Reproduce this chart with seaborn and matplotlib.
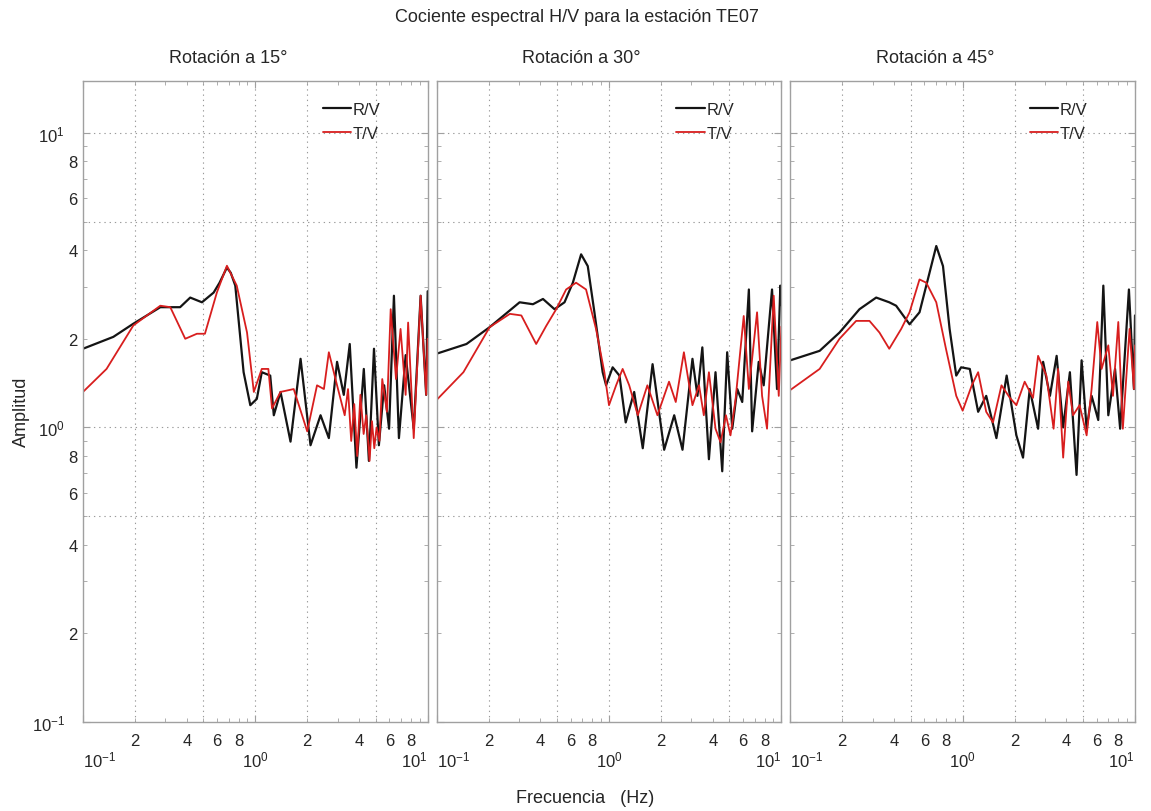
import numpy as np
import pandas as pd
import matplotlib
matplotlib.use("Agg")
import matplotlib.pyplot as plt
import matplotlib.ticker as mticker
import seaborn as sns

# ---------------- data ----------------
titles = ["Rotación a 15°", "Rotación a 30°", "Rotación a 45°"]
series_labels = ["R/V", "T/V"]

f15_rv = [0.1, 0.15, 0.196, 0.281, 0.366, 0.419, 0.49, 0.573, 0.62, 0.684, 0.72, 0.765, 0.855, 0.935,
          1.02, 1.09, 1.22, 1.28, 1.40, 1.60, 1.83, 2.09, 2.39, 2.67, 2.98, 3.26, 3.53, 3.86,
          4.26, 4.56, 4.88, 5.21, 5.59, 5.97, 6.37, 6.81, 7.45, 8.3, 9.1, 9.8, 10.0]
a15_rv = [1.85, 2.03, 2.25, 2.56, 2.56, 2.76, 2.66, 2.87, 3.10, 3.49, 3.35, 3.03, 1.54, 1.19,
          1.25, 1.54, 1.50, 1.10, 1.32, 0.895, 1.71, 0.87, 1.10, 0.92, 1.67, 1.29, 1.92, 0.73,
          1.58, 0.77, 1.85, 0.87, 1.39, 0.99, 2.80, 0.92, 1.76, 0.99, 2.80, 1.29, 2.90]
f15_tv = [0.1, 0.137, 0.196, 0.281, 0.321, 0.392, 0.458, 0.51, 0.598, 0.684, 0.78, 0.895, 0.98,
          1.09, 1.19, 1.25, 1.40, 1.67, 2.0, 2.28, 2.5, 2.67, 2.98, 3.3, 3.45, 3.6, 3.75, 3.9,
          4.07, 4.25, 4.4, 4.6, 4.75, 4.9, 5.05, 5.25, 5.45, 5.8, 6.1, 6.55, 6.96, 7.45, 7.7,
          8.3, 9.1, 9.8, 10.0]
a15_tv = [1.32, 1.58, 2.22, 2.59, 2.56, 2.0, 2.08, 2.08, 2.87, 3.54, 3.03, 2.10, 1.32,
          1.58, 1.58, 1.16, 1.32, 1.35, 0.97, 1.39, 1.35, 1.80, 1.39, 1.10, 1.35, 0.90, 1.20, 0.80,
          1.29, 0.95, 1.10, 0.77, 1.05, 0.85, 1.00, 0.90, 1.46, 1.13, 2.52, 1.46, 2.16, 1.29, 2.27,
          0.92, 2.80, 1.29, 2.00]

f30_rv = [0.1, 0.149, 0.203, 0.303, 0.362, 0.414, 0.483, 0.552, 0.617, 0.689, 0.753, 0.823, 0.919,
          0.962, 1.05, 1.15, 1.25, 1.40, 1.57, 1.79, 2.09, 2.39, 2.67, 3.05, 3.26, 3.48, 3.80,
          4.15, 4.54, 4.85, 5.19, 5.55, 5.93, 6.48, 6.77, 7.39, 7.90, 8.83, 9.44, 9.87, 10.0]
a30_rv = [1.78, 1.92, 2.19, 2.66, 2.62, 2.73, 2.52, 2.66, 3.10, 3.87, 3.53, 2.46, 1.54,
          1.39, 1.60, 1.50, 1.04, 1.32, 0.85, 1.64, 0.84, 1.10, 0.84, 1.71, 1.28, 1.87, 0.78,
          1.54, 0.71, 1.80, 0.99, 1.35, 1.22, 2.94, 0.97, 1.67, 1.39, 2.94, 1.35, 3.03, 2.60]
f30_tv = [0.1, 0.143, 0.203, 0.266, 0.310, 0.378, 0.432, 0.494, 0.564, 0.644, 0.736, 0.841, 0.94,
          1.00, 1.10, 1.20, 1.31, 1.47, 1.67, 1.91, 2.23, 2.44, 2.72, 3.05, 3.33, 3.55, 3.80,
          4.15, 4.44, 4.77, 5.07, 5.42, 6.05, 6.48, 7.23, 7.73, 8.26, 9.03, 9.66, 10.0]
a30_tv = [1.24, 1.54, 2.19, 2.43, 2.40, 1.92, 2.21, 2.52, 2.94, 3.10, 2.94, 2.16, 1.54,
          1.19, 1.39, 1.58, 1.39, 1.10, 1.39, 1.10, 1.43, 1.22, 1.80, 1.19, 1.39, 1.10, 1.54,
          0.99, 0.89, 1.10, 0.94, 1.24, 2.39, 1.35, 2.46, 1.28, 0.99, 2.80, 1.28, 2.20]

f45_rv = [0.1, 0.148, 0.193, 0.252, 0.315, 0.375, 0.411, 0.492, 0.562, 0.628, 0.703, 0.769, 0.84,
          0.918, 0.98, 1.10, 1.23, 1.37, 1.57, 1.80, 2.05, 2.24, 2.45, 2.74, 2.93, 3.21, 3.51,
          3.83, 4.19, 4.58, 4.90, 5.24, 5.6, 6.12, 6.55, 7.0, 7.66, 8.2, 9.22, 9.86, 10.0]
a45_rv = [1.69, 1.82, 2.10, 2.52, 2.76, 2.66, 2.59, 2.24, 2.46, 3.18, 4.13, 3.53, 2.16,
          1.50, 1.60, 1.58, 1.13, 1.28, 0.92, 1.50, 0.94, 0.79, 1.35, 0.99, 1.67, 1.28, 1.75,
          1.00, 1.54, 0.69, 1.69, 0.99, 1.28, 1.06, 3.03, 1.10, 1.58, 0.99, 2.94, 1.35, 2.40]
f45_tv = [0.1, 0.148, 0.193, 0.241, 0.288, 0.329, 0.375, 0.44, 0.492, 0.562, 0.615, 0.703, 0.80,
          0.918, 1.0, 1.13, 1.23, 1.37, 1.50, 1.68, 1.88, 2.05, 2.29, 2.56, 2.74, 3.06, 3.37,
          3.58, 3.83, 4.1, 4.37, 4.77, 5.24, 5.6, 6.04, 6.4, 7.0, 7.45, 8.0, 8.5, 9.3, 9.86, 10.0]
a45_tv = [1.34, 1.58, 2.0, 2.30, 2.30, 2.10, 1.85, 2.16, 2.46, 3.18, 3.10, 2.66, 1.85,
          1.28, 1.14, 1.39, 1.54, 1.13, 1.04, 1.39, 1.26, 1.19, 1.43, 1.26, 1.75, 1.50, 0.99,
          1.58, 0.79, 1.43, 1.10, 1.19, 0.94, 1.35, 2.28, 1.58, 1.90, 1.28, 2.28, 0.99, 2.16, 1.35, 1.90]

panels = [
    ((f15_rv, a15_rv), (f15_tv, a15_tv)),
    ((f30_rv, a30_rv), (f30_tv, a30_tv)),
    ((f45_rv, a45_rv), (f45_tv, a45_tv)),
]

# ---------------- style ----------------
sns.set_style("ticks")
plt.rcParams["font.family"] = ["Liberation Sans", "DejaVu Sans"]
plt.rcParams["mathtext.fontset"] = "custom"
plt.rcParams["mathtext.rm"] = "Liberation Sans"
plt.rcParams["mathtext.it"] = "Liberation Sans"
TXT = "#262626"
GRID = "#9a9a9a"
SPINE = "#a0a0a0"
colors = {"R/V": "#141414", "T/V": "#d81e1e"}
widths = {"R/V": 1.6, "T/V": 1.3}

fig = plt.figure(figsize=(11.51, 8.12), dpi=100)
axes = fig.subplots(1, 3, sharey=True)
fig.subplots_adjust(left=0.0721, right=0.9861, bottom=0.1096, top=0.899, wspace=0.026)


def minor_fmt(v, pos):
    e = np.floor(np.log10(v) + 1e-9)
    m = int(round(v / 10 ** e))
    return str(m) if m in (2, 4, 6, 8) else ""


for i, (ax, (rv, tv)) in enumerate(zip(axes, panels)):
    ax.set_xscale("log")
    ax.set_yscale("log")
    for (fx, ay), lab in zip((rv, tv), series_labels):
        df = pd.DataFrame({"Frecuencia": fx, "Amplitud": ay})
        sns.lineplot(data=df, x="Frecuencia", y="Amplitud", ax=ax, color=colors[lab],
                     lw=widths[lab], estimator=None, sort=False, label=lab, legend=False)
    ax.set_xlim(0.1, 10)
    ax.set_ylim(0.1, 15)
    ax.set_xlabel("")
    ax.set_ylabel("")

    # dotted grid as in the reference
    for gx in (0.2, 0.5, 1, 2, 5):
        ax.axvline(gx, color=GRID, lw=0.8, ls=(0, (1.2, 3.5)), zorder=0)
    for gy in (0.5, 1, 5, 10):
        ax.axhline(gy, color=GRID, lw=0.8, ls=(0, (1.2, 3.5)), zorder=0)

    for sp in ax.spines.values():
        sp.set_color(SPINE)
        sp.set_linewidth(1.0)

    ax.set_xticks([0.1, 1, 10])
    ax.xaxis.set_major_formatter(mticker.LogFormatterSciNotation())
    ax.xaxis.set_minor_locator(mticker.LogLocator(base=10, subs=np.arange(2, 10)))
    ax.xaxis.set_minor_formatter(mticker.FuncFormatter(minor_fmt))
    ax.yaxis.set_major_locator(mticker.FixedLocator([0.1, 1, 10]))
    ax.yaxis.set_major_formatter(mticker.LogFormatterSciNotation())
    ax.yaxis.set_minor_locator(mticker.LogLocator(base=10, subs=np.arange(2, 10)))
    ax.yaxis.set_minor_formatter(mticker.FuncFormatter(minor_fmt))

    ax.tick_params(which="both", direction="in", top=True, right=True,
                   color=SPINE, labelcolor=TXT, labelsize=12)
    ax.tick_params(which="major", length=5)
    ax.tick_params(which="minor", length=3)
    ax.tick_params(axis="x", which="major", pad=20)
    ax.tick_params(axis="x", which="minor", pad=8)
    ax.tick_params(axis="y", which="major", pad=13)
    ax.tick_params(axis="y", which="minor", pad=4)
    if i > 0:
        ax.tick_params(axis="y", which="both", labelleft=False)

    xl = ax.get_xticklabels()
    xl[0].set_ha("left")
    xl[-1].set_ha("right")

    ax.text(0.42, 1.037, titles[i], transform=ax.transAxes, ha="center", va="center",
            fontsize=13, color=TXT)

    leg = ax.legend(loc="upper left", bbox_to_anchor=(0.695, 0.968), frameon=False,
                    handlelength=1.7, handletextpad=0.1, labelspacing=0.55,
                    fontsize=12, borderaxespad=0, borderpad=0)
    for t in leg.get_texts():
        t.set_color(TXT)

fig.text(0.501, 0.978, "Cociente espectral H/V para la estación TE07", ha="center",
         va="center", fontsize=13, color=TXT)
fig.text(0.508, 0.017, "Frecuencia   (Hz)", ha="center", va="center", fontsize=13, color=TXT)
fig.text(0.019, 0.493, "Amplitud", ha="center", va="center", rotation=90, fontsize=13, color=TXT)

fig.savefig("out.png", dpi=100, facecolor="white")
